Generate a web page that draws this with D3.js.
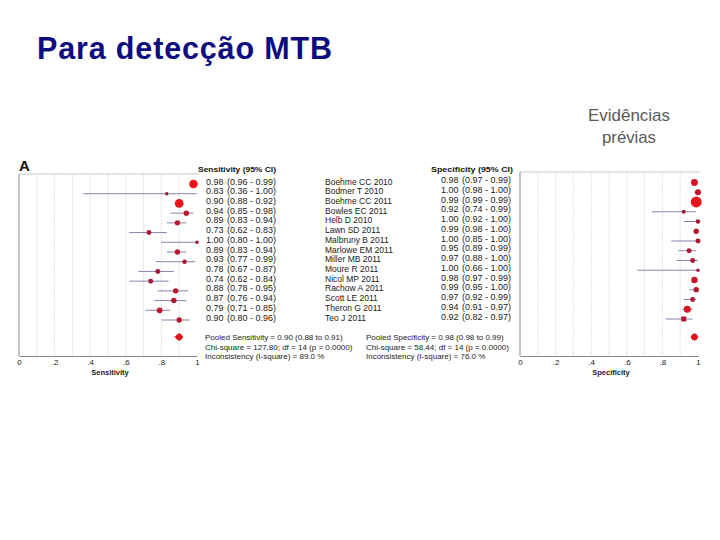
<!DOCTYPE html>
<html><head><meta charset="utf-8">
<script src="https://cdn.jsdelivr.net/npm/d3@7"></script>
<style>body{margin:0;background:#fff}svg{display:block}text{font-family:"Liberation Sans",Arial,sans-serif}</style>
</head><body><svg id="c" width="720" height="540"></svg>
<script>
const studies=["Boehme CC 2010","Bodmer T 2010","Boehme CC 2011","Bowles EC 2011","Helb D 2010","Lawn SD 2011","Malbruny B 2011","Marlowe EM 2011","Miller MB 2011","Moure R 2011","Nicol MP 2011","Rachow A 2011","Scott LE 2011","Theron G 2011","Teo J 2011"];
const sensVal=[0.98,0.83,0.90,0.94,0.89,0.73,1.00,0.89,0.93,0.78,0.74,0.88,0.87,0.79,0.90];
const sensLo=[0.96,0.36,0.88,0.85,0.83,0.62,0.80,0.83,0.77,0.67,0.62,0.78,0.76,0.71,0.80];
const sensHi=[0.99,1.00,0.92,0.98,0.94,0.83,1.00,0.94,0.99,0.87,0.84,0.95,0.94,0.85,0.96];
const sensWeight=[80,14,82,32,32,26,14,32,22,27,27,32,32,36,30];
const specVal=[0.98,1.00,0.99,0.92,1.00,0.99,1.00,0.95,0.97,1.00,0.98,0.99,0.97,0.94,0.92];
const specLo=[0.97,0.98,0.99,0.74,0.92,0.98,0.85,0.89,0.88,0.66,0.97,0.95,0.92,0.91,0.82];
const specHi=[0.99,1.00,0.99,0.99,1.00,1.00,1.00,0.99,1.00,1.00,0.99,1.00,0.99,0.97,0.97];
const specWeight=[52,40,130,17,21,32,27,27,27,14,45,32,27,55,27];
const pooledSens={v:0.90,lo:0.88,hi:0.91};
const pooledSpec={v:0.98,lo:0.98,hi:0.99};
const sensStats=["Pooled Sensitivity = 0.90 (0.88 to 0.91)","Chi-square = 127.80; df =  14 (p = 0.0000)","Inconsistency (I-square) = 89.0 %"];
const specStats=["Pooled Specificity = 0.98 (0.98 to 0.99)","Chi-square = 58.44; df =  14 (p = 0.0000)","Inconsistency (I-square) = 76.0 %"];
const tickVals=[0,0.2,0.4,0.6,0.8,1];
const tickLabels=["0",".2",".4",".6",".8","1"];
const gridVals=[0.1,0.2,0.3,0.4,0.5,0.6,0.7,0.8,0.9];

const svg=d3.select("#c");
const f2=d3.format(".2f");

svg.append("text").attr("x",37).attr("y",58.5).attr("font-size",30.5).attr("font-weight","bold")
  .attr("textLength",295).attr("lengthAdjust","spacing").attr("fill","#0d0d80").text("Para detecção MTB");
svg.append("text").attr("x",588).attr("y",121).attr("font-size",17).attr("textLength",82).attr("lengthAdjust","spacingAndGlyphs").attr("fill","#595959").text("Evidências");
svg.append("text").attr("x",602).attr("y",143).attr("font-size",17).attr("textLength",54).attr("lengthAdjust","spacingAndGlyphs").attr("fill","#595959").text("prévias");
svg.append("text").attr("x",19).attr("y",171).attr("font-size",15).attr("font-weight","bold").attr("fill","#111").text("A");

const rScale=d3.scaleSqrt().domain([0,100]).range([0,4.8]);
const colScale=d3.scaleLinear().domain([2,4]).range(["#9a1838","#e8141c"]).clamp(true);

function panel(o){
  const x=d3.scaleLinear().domain([0,1]).range([o.x0,o.x1]);
  const y=d3.scaleLinear().domain([0,studies.length-1]).range([o.y0,o.y1]);
  const g=svg.append("g");
  g.selectAll(".grid").data(gridVals).join("line")
    .attr("x1",d=>x(d)).attr("x2",d=>x(d)).attr("y1",o.top).attr("y2",o.bottom)
    .attr("stroke","#e2e2e2").attr("stroke-width",1).attr("stroke-dasharray","2,1");
  g.append("line").attr("x1",o.x0).attr("x2",o.x1+2).attr("y1",o.top).attr("y2",o.top).attr("stroke","#c8c8c8");
  g.append("line").attr("x1",o.x0).attr("x2",o.x0).attr("y1",o.top).attr("y2",o.bottom).attr("stroke","#8a8a8a");
  const ax=g.append("g").attr("transform",`translate(0,${o.bottom})`)
    .call(d3.axisBottom(x).tickValues(tickVals).tickSize(0).tickPadding(3).tickFormat((d,i)=>tickLabels[i]));
  ax.select(".domain").attr("stroke","#8a8a8a");
  ax.selectAll("text").attr("font-size",8).attr("fill","#222").attr("font-family","Liberation Sans,Arial");
  g.append("text").attr("x",(o.x0+o.x1)/2+2).attr("y",o.bottom+19).attr("text-anchor","middle")
    .attr("font-size",7.5).attr("font-weight","bold").attr("fill","#222").text(o.label);
  g.selectAll(".ci").data(o.val).join("line")
    .attr("x1",(d,i)=>x(o.lo[i])).attr("x2",(d,i)=>x(o.hi[i]))
    .attr("y1",(d,i)=>y(i)).attr("y2",(d,i)=>y(i)).attr("stroke","#7470a4").attr("stroke-width",1).attr("opacity",0.85);
  g.selectAll(".pt").data(o.val).join("path")
    .attr("transform",(d,i)=>`translate(${x(d)},${y(i)})`)
    .attr("d",(d,i)=>{const r=rScale(o.w[i]);return (o.square&&i===o.square)?d3.symbol(d3.symbolSquare,(2*r)*(2*r))():d3.symbol(d3.symbolCircle,Math.PI*r*r)();})
    .attr("fill",(d,i)=>colScale(rScale(o.w[i])));
  g.append("line").attr("x1",x(o.pooled.lo)-1).attr("x2",x(o.pooled.hi)+1).attr("y1",o.py).attr("y2",o.py).attr("stroke","#e8141c").attr("stroke-width",1.5);
  const cx=x(o.pooled.v);
  g.append("path").attr("d",`M${cx-4},${o.py}L${cx},${o.py-4}L${cx+4},${o.py}L${cx},${o.py+4}Z`).attr("fill","#e0141c");
  g.append("circle").attr("cx",cx).attr("cy",o.py).attr("r",3.2).attr("fill","#e0141c");
  const t=svg.append("g").attr("font-size",9).attr("fill","#222");
  t.append("text").attr("x",o.hx).attr("y",171.5).attr("font-size",7.5).attr("font-weight","bold").attr("fill","#111")
    .attr("textLength",o.hw).attr("lengthAdjust","spacingAndGlyphs").text(o.header);
  t.selectAll(".v").data(o.val).join("text").attr("x",o.vx).attr("y",(d,i)=>y(i)+0.5).text(d=>f2(d));
  t.selectAll(".ci").data(o.val).join("text").attr("x",o.cx).attr("y",(d,i)=>y(i)+0.5)
    .text((d,i)=>`(${f2(o.lo[i])} - ${f2(o.hi[i])})`);
  t.selectAll(".st").data(o.stats).join("text").attr("x",o.sx).attr("y",(d,i)=>340+i*9.5).attr("font-size",8).text(d=>d);
}

panel({x0:19,x1:197,top:174,bottom:356,y0:184,y1:320,py:337,label:"Sensitivity",
  val:sensVal,lo:sensLo,hi:sensHi,w:sensWeight,pooled:pooledSens,
  header:"Sensitivity (95% CI)",hx:198,hw:78,vx:206,cx:227,stats:sensStats,sx:205});
panel({x0:520,x1:698,top:172,bottom:356,y0:182.5,y1:319,py:337,label:"Specificity",
  val:specVal,lo:specLo,hi:specHi,w:specWeight,pooled:pooledSpec,square:14,
  header:"Specificity (95% CI)",hx:431,hw:82,vx:441,cx:462,stats:specStats,sx:366});

svg.append("g").attr("font-size",8.5).attr("fill","#222").selectAll("text").data(studies).join("text")
  .attr("x",325).attr("y",(d,i)=>184+i*(136/14)+0.5).text(d=>d);
</script></body></html>
